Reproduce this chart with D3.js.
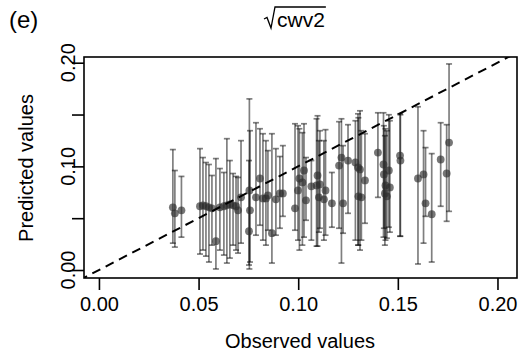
<!DOCTYPE html>
<html>
<head>
<meta charset="utf-8">
<script src="https://cdn.jsdelivr.net/npm/d3@7"></script>
<style>
  body { margin: 0; background: #fff; }
  text { font-family: "Liberation Sans", Arial, sans-serif; fill: #000; }
</style>
</head>
<body>
<div id="chart"></div>
<script>
// observed values (x)
const observed = [
  0.0371, 0.0381, 0.0414,
  0.0507, 0.0522, 0.0537, 0.0552, 0.0567, 0.0587,
  0.0607, 0.0627, 0.0642, 0.0657, 0.0673, 0.0688, 0.0698, 0.0713,
  0.0755, 0.0758, 0.0753, 0.0788, 0.0808, 0.0823, 0.0838, 0.0848, 0.0868, 0.0888, 0.0908, 0.0923,
  0.0984, 0.0999, 0.1006, 0.1021, 0.1029, 0.1039, 0.1066, 0.1092, 0.1097, 0.1104, 0.1109,
  0.1137, 0.1129, 0.1169, 0.1205, 0.1217, 0.1225, 0.1250, 0.1287, 0.1300, 0.1302, 0.1310, 0.1317, 0.1335,
  0.1400, 0.1428, 0.1430, 0.1438, 0.1435, 0.1455, 0.1460, 0.1445, 0.1511, 0.1513,
  0.1601, 0.1629, 0.1639, 0.1670, 0.1715, 0.1745, 0.1757
];
// predicted values (y)
const predicted = [
  0.0605, 0.0547, 0.0576,
  0.0615, 0.0624, 0.0615, 0.0605, 0.0595, 0.0278,
  0.0605, 0.0615, 0.0624, 0.0634, 0.0624, 0.0615, 0.0576, 0.0701,
  0.0768, 0.0576, 0.0374, 0.0701, 0.0883, 0.0691, 0.0691, 0.0720, 0.0355, 0.0682, 0.0739, 0.0739,
  0.0595, 0.0768, 0.0883, 0.0845, 0.0960, 0.0672, 0.0807, 0.0816, 0.0912, 0.0701, 0.0826,
  0.0768, 0.0682, 0.0643, 0.1008, 0.1085, 0.0643, 0.1056, 0.1037, 0.0989, 0.0711, 0.0970, 0.0701, 0.0864,
  0.1133, 0.1018, 0.0922, 0.0816, 0.0739, 0.0960, 0.0797, 0.0711, 0.1104, 0.1056,
  0.0883, 0.0922, 0.0643, 0.0538, 0.1066, 0.0931, 0.1229
];
// prediction interval bounds
const lower = [
  0.0259, 0.0221, 0.0317,
  0.0154, 0.0192, 0.0134, 0.0077, 0.0240, 0.0010,
  0.0192, 0.0144, 0.0067, 0.0115, 0.0240, 0.0192, 0.0163, 0.0259,
  0.0010, 0.0077, 0.0048, 0.0336, 0.0432, 0.0288, 0.0240, 0.0384, 0.0067, 0.0336, 0.0403, 0.0518,
  0.0384, 0.0288, 0.0192, 0.0240, 0.0317, 0.0480, 0.0288, 0.0230, 0.0230, 0.0365, 0.0403,
  0.0336, 0.0288, 0.0413, 0.0403, 0.0067, 0.0355, 0.0547, 0.0288, 0.0240, 0.0240, 0.0192, 0.0288, 0.0451,
  0.0701, 0.0317, 0.0403, 0.0288, 0.0240, 0.0413, 0.0365, 0.0307, 0.0326, 0.0326,
  0.0058, 0.0259, 0.0518, 0.0077, 0.0615, 0.0470, 0.0566
];
const upper = [
  0.1162, 0.0960, 0.0903,
  0.1171, 0.1085, 0.1037, 0.1018, 0.0912, 0.1075,
  0.0979, 0.0941, 0.1267, 0.1056, 0.0931, 0.0903, 0.0893, 0.1248,
  0.1651, 0.1344, 0.1056, 0.1421, 0.1363, 0.1315, 0.1248, 0.1152, 0.1315, 0.1171, 0.1095, 0.1200,
  0.1411, 0.1392, 0.1363, 0.1325, 0.1411, 0.1085, 0.1056, 0.1459, 0.1488, 0.1248, 0.1344,
  0.1354, 0.1248, 0.0941, 0.1431, 0.1459, 0.1200, 0.1402, 0.1440, 0.1507, 0.1469, 0.1536, 0.1344, 0.1315,
  0.1517, 0.1517, 0.1392, 0.1363, 0.1296, 0.1498, 0.1440, 0.1344, 0.1507, 0.1498,
  0.1575, 0.1344, 0.1181, 0.1123, 0.1421, 0.1402, 0.1988
];
const xTicks = [0, 0.05, 0.10, 0.15, 0.20];
const yTicks = [0, 0.05, 0.10, 0.15, 0.20];
const yLabelled = [0, 0.10, 0.20];

const width = 529, height = 358;
const box = { left: 84, right: 517, top: 57, bottom: 278 };

const svg = d3.select("#chart").append("svg")
  .attr("width", width)
  .attr("height", height);

const x = d3.scaleLinear().domain([-0.0075, 0.2098]).range([box.left, box.right]);
const y = d3.scaleLinear().domain([-0.0077, 0.2055]).range([box.bottom, box.top]);

svg.append("defs").append("clipPath").attr("id", "plotclip")
  .append("rect")
  .attr("x", box.left).attr("y", box.top)
  .attr("width", box.right - box.left).attr("height", box.bottom - box.top);

// error bars with flat caps
const bars = svg.append("g").attr("clip-path", "url(#plotclip)");
observed.forEach((o, i) => {
  const g = bars.append("g")
    .attr("stroke", "rgba(0,0,0,0.5)")
    .attr("stroke-width", 1.7);
  g.append("line")
    .attr("x1", x(o)).attr("x2", x(o))
    .attr("y1", y(lower[i])).attr("y2", y(upper[i]));
  [lower[i], upper[i]].forEach(v => {
    g.append("line")
      .attr("x1", x(o) - 3).attr("x2", x(o) + 3)
      .attr("y1", y(v)).attr("y2", y(v));
  });
});

// points
svg.append("g").selectAll("circle")
  .data(observed)
  .enter()
  .append("circle")
  .attr("cx", d => x(d))
  .attr("cy", (d, i) => y(predicted[i]))
  .attr("r", 3.9)
  .attr("fill", "rgba(45,45,45,0.65)");

// 1:1 line
svg.append("line")
  .attr("clip-path", "url(#plotclip)")
  .attr("x1", x(-0.01)).attr("y1", y(-0.01))
  .attr("x2", x(0.22)).attr("y2", y(0.22))
  .attr("stroke", "#000")
  .attr("stroke-width", 2)
  .attr("stroke-dasharray", "9,6");

// frame
svg.append("rect")
  .attr("x", box.left).attr("y", box.top)
  .attr("width", box.right - box.left).attr("height", box.bottom - box.top)
  .attr("fill", "none")
  .attr("stroke", "#000")
  .attr("stroke-width", 1.6);

// x axis
const xAxis = svg.append("g")
  .attr("transform", "translate(0," + box.bottom + ")")
  .call(d3.axisBottom(x).tickValues(xTicks).tickFormat(d3.format(".2f")).tickSize(12).tickPadding(7));
xAxis.select(".domain").remove();
xAxis.selectAll("line").attr("stroke", "#000").attr("stroke-width", 1.6);
xAxis.selectAll("text").style("font-size", "20px").style("font-family", "Liberation Sans, Arial, sans-serif");

// y axis
const yAxis = svg.append("g")
  .attr("transform", "translate(" + box.left + ",0)")
  .call(d3.axisLeft(y).tickValues(yTicks).tickSize(12).tickFormat(""));
yAxis.select(".domain").remove();
yAxis.selectAll("line").attr("stroke", "#000").attr("stroke-width", 1.6);

svg.append("g").selectAll("text")
  .data(yLabelled)
  .enter()
  .append("text")
  .attr("transform", d => "translate(75," + y(d) + ") rotate(-90)")
  .attr("text-anchor", "middle")
  .style("font-size", "20px")
  .text(d3.format(".2f"));

// axis titles
svg.append("text")
  .attr("x", 300)
  .attr("y", 348)
  .attr("text-anchor", "middle")
  .style("font-size", "20px")
  .text("Observed values");

svg.append("text")
  .attr("transform", "translate(33,168) rotate(-90)")
  .attr("text-anchor", "middle")
  .style("font-size", "20px")
  .text("Predicted values");

// panel tag
svg.append("text")
  .attr("x", 9).attr("y", 28)
  .style("font-size", "24px")
  .text("(e)");

// title: square root of cwv2
const title = svg.append("g");
const tText = title.append("text")
  .attr("x", 277).attr("y", 27)
  .style("font-size", "21px")
  .text("cwv2");
const tw = tText.node().getComputedTextLength();
title.append("path")
  .attr("d", "M264,19 L267,17.5 L271,28 L275,7 L" + (277 + tw + 1) + ",7")
  .attr("fill", "none")
  .attr("stroke", "#000")
  .attr("stroke-width", 1.3);
</script>
</body>
</html>
